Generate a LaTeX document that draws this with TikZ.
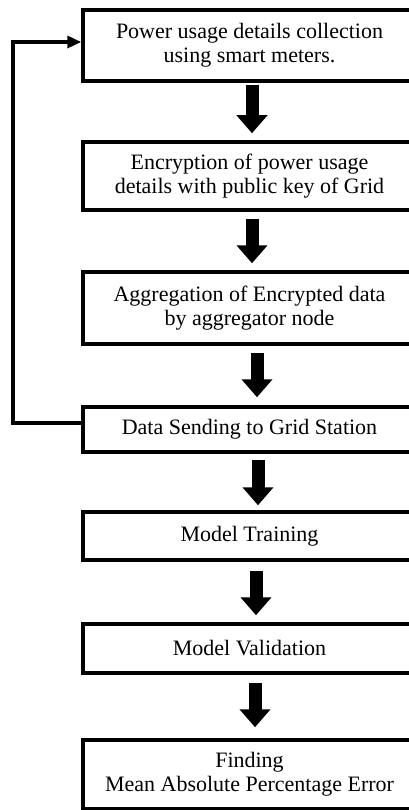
\documentclass[tikz,border=0pt]{standalone}
\usepackage{fontspec}
\setmainfont{Liberation Serif}
\usetikzlibrary{arrows.meta,calc}
\begin{document}
\begin{tikzpicture}[x=1pt,y=-1pt,
  stepbox/.style={draw,line width=3.5pt,minimum width=333pt,align=center,inner sep=0pt,font=\fontsize{22}{24}\selectfont},
  blockarrow/.style={line width=13pt,-{Triangle[width=30pt,length=18pt]}},
  feedback/.style={line width=4pt,-{Triangle[width=12pt,length=14pt]}}]
\useasboundingbox (0,0) rectangle (409,810);
\node[stepbox,minimum height=71pt] (a) at (249.5,45.5) {Power usage details collection\\using smart meters.};
\node[stepbox,minimum height=68pt] (b) at (249.5,176) {Encryption of power usage\\details with public key of Grid};
\node[stepbox,minimum height=72pt] (c) at (249.5,308) {Aggregation of Encrypted data\\by aggregator node};
\node[stepbox,minimum height=45pt] (d) at (249.5,429.5) {Data Sending to Grid Station};
\node[stepbox,minimum height=48pt] (e) at (249.5,536) {Model Training};
\node[stepbox,minimum height=49pt] (f) at (249.5,648.5) {Model Validation};
\node[stepbox,minimum height=69pt] (g) at (249.5,774.5) {Finding\\Mean Absolute Percentage Error};
\draw[blockarrow] ([xshift=2.5pt,yshift=-2pt]a.south) -- ([xshift=2.5pt,yshift=7pt]b.north);
\draw[blockarrow] ([xshift=2.5pt,yshift=-7pt]b.south) -- ([xshift=2.5pt,yshift=7pt]c.north);
\draw[blockarrow] ([xshift=7.5pt,yshift=-7pt]c.south) -- ([xshift=7.5pt,yshift=8pt]d.north);
\draw[blockarrow] ([xshift=8.5pt,yshift=-6pt]d.south) -- ([xshift=8.5pt,yshift=5pt]e.north);
\draw[blockarrow] ([xshift=6.5pt,yshift=-9pt]e.south) -- ([xshift=6.5pt,yshift=7pt]f.north);
\draw[blockarrow] ([xshift=5.5pt,yshift=-8pt]f.south) -- ([xshift=5.5pt,yshift=11pt]g.north);
\draw[feedback] ([yshift=6.5pt]d.west) -- (13,423) -- (13,42) -- ([yshift=3.5pt]a.west);
\end{tikzpicture}
\end{document}
